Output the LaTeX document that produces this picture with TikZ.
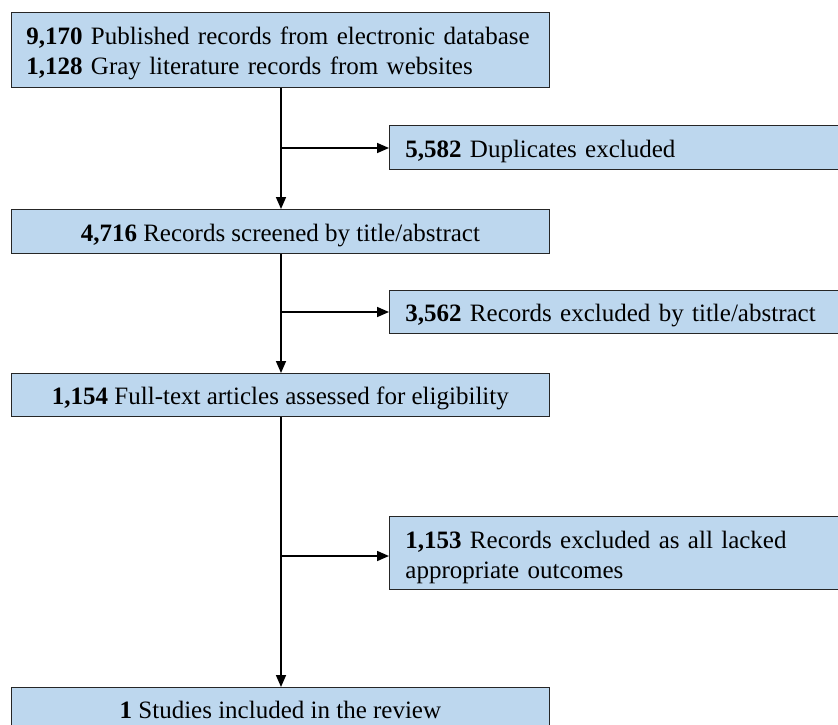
\documentclass[tikz,border=0pt]{standalone}
\usepackage{fontspec}
\setmainfont{Liberation Serif}
\usetikzlibrary{arrows.meta}
\newcommand{\boxstrut}{\rule{0pt}{25.5pt}}
\begin{document}
\begin{tikzpicture}[x=1pt,y=-1pt,
  boxbase/.style={draw=black!85, line width=0.8pt, fill=boxblue, inner sep=0pt, font=\fontsize{25}{30}\selectfont, execute at begin node=\boxstrut},
  mainbox/.style={boxbase, anchor=north west, minimum width=538pt, align=center},
  sidebox/.style={boxbase, anchor=north west, minimum width=452pt, text width=420pt, align=left},
  conn/.style={line width=1.6pt, -{Triangle[length=12pt,width=10pt]}}
]
\definecolor{boxblue}{HTML}{BDD7EE}
\useasboundingbox (0,0) rectangle (838,724);
\clip (0,0) rectangle (838,724);
\node[boxbase, anchor=north west, minimum width=538pt, minimum height=75pt, text width=508pt, align=left] (top) at (11,12)
  {\textbf{9,170} Published records from electronic database\\\textbf{1,128} Gray literature records from websites};
\node[sidebox, minimum height=44pt] (dup) at (389,125) {\textbf{5,582} Duplicates excluded};
\node[mainbox, minimum height=44pt] (scr) at (11,209) {\textbf{4,716} Records screened by title/abstract};
\node[sidebox, minimum height=43pt] (ex2) at (389,290) {\textbf{3,562} Records excluded by title/abstract};
\node[mainbox, minimum height=43pt] (ft) at (11,373) {\textbf{1,154} Full-text articles assessed for eligibility};
\node[sidebox, minimum height=73pt] (ex3) at (389,516) {\textbf{1,153} Records excluded as all lacked\\appropriate outcomes};
\node[mainbox, minimum height=60pt, text depth=24pt] (fin) at (11,687) {\textbf{1} Studies included in the review};
\coordinate (j1) at (281,148);
\coordinate (j2) at (281,312);
\coordinate (j3) at (281,556);
\draw[conn] (top.south -| j1) -- (scr.north -| j1);
\draw[conn] (scr.south -| j2) -- (ft.north -| j2);
\draw[conn] (ft.south -| j3) -- (fin.north -| j3);
\draw[conn] (j1) -- (dup.west |- j1);
\draw[conn] (j2) -- (ex2.west |- j2);
\draw[conn] (j3) -- (ex3.west |- j3);
\end{tikzpicture}
\end{document}
